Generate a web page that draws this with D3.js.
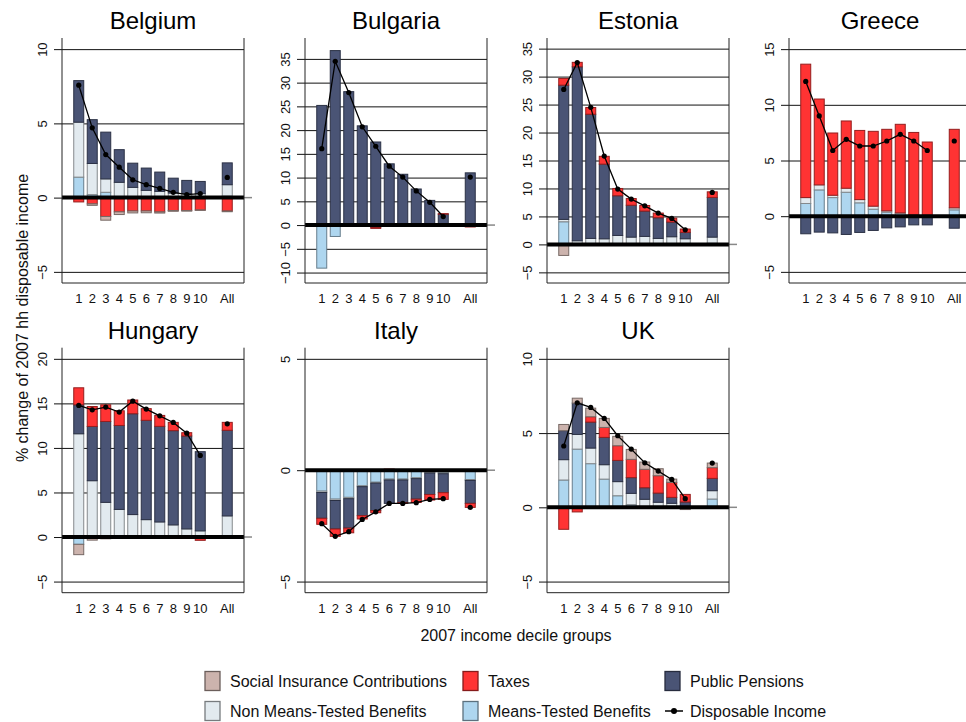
<!DOCTYPE html>
<html>
<head>
<meta charset="utf-8">
<script src="https://cdn.jsdelivr.net/npm/d3@7"></script>
<style>
  body { margin: 0; background: #fff; font-family: "Liberation Sans", Arial, sans-serif; }
</style>
</head>
<body>
<div class="chart"></div>
<script>
// categories
const deciles = ["1","2","3","4","5","6","7","8","9","10","All"];
const slots = ["1","2","3","4","5","6","7","8","9","10","gap","All"];
const countries = ["Belgium","Bulgaria","Estonia","Greece","Hungary","Italy","UK"];

// axis limits and tick labels, per country
const yDomains = [[-5.75,10.75],[-12.2,39.4],[-6.9,36.9],[-6,16],[-6.25,21.25],[-5.5,5.5],[-5.75,10.75]];
const yTicks = [
  [-5,0,5,10],
  [-10,-5,0,5,10,15,20,25,30,35],
  [-5,0,5,10,15,20,25,30,35],
  [-5,0,5,10,15],
  [-5,0,5,10,15,20],
  [-5,0,5],
  [-5,0,5,10]
];

// series values: Means-Tested, Non Means-Tested, Pensions, Taxes, SIC, Disposable Income
const beMT  = [1.38, 0.2, 0.36, 0.05, 0.05, 0.03, 0.02, 0.02, 0.01, 0.01, 0.1];
const beNMT = [3.7, 2.1, 0.9, 0.98, 0.64, 0.46, 0.4, 0.29, 0.26, 0.26, 0.77];
const bePEN = [2.8, 2.95, 3.15, 2.2, 1.63, 1.5, 1.3, 1.0, 0.89, 0.82, 1.47];
const beTAX = [-0.29, -0.42, -1.27, -0.96, -0.9, -0.9, -0.96, -0.87, -0.87, -0.83, -0.9];
const beSIC = [0, -0.1, -0.25, -0.18, -0.13, -0.12, -0.08, -0.05, -0.04, -0.03, -0.05];
const beDI  = [7.57, 4.7, 2.9, 2.05, 1.2, 0.87, 0.62, 0.36, 0.2, 0.27, 1.36];

const bgMT  = [-9.07, -2.4, 0.15, 0, -0.5, -0.15, -0.1, 0.05, 0, -0.3, -0.3];
const bgNMT = [0, 0, 0.1, 0.1, 0, 0.1, 0.1, 0.15, 0.1, 0, 0];
const bgPEN = [25.2, 36.75, 27.85, 20.8, 17.5, 12.8, 10.6, 7.4, 5.1, 2.3, 11.0];
const bgTAX = [0, 0, -0.2, -0.15, -0.2, -0.15, -0.2, -0.1, -0.2, 0.1, -0.1];
const bgSIC = [0, 0, 0, 0, 0, 0, 0, 0, 0, 0, 0];
const bgDI  = [16.1, 34.5, 27.9, 20.7, 16.6, 12.4, 10.1, 7.2, 4.8, 1.8, 10.1];

const eeMT  = [4.05, 0.1, 0.1, 0.1, 0.1, 0.1, 0.1, 0.1, 0.1, 0.05, 0.2];
const eeNMT = [0.42, 0.55, 0.97, 0.9, 1.5, 1.2, 1.33, 0.97, 1.27, 0.96, 1.1];
const eePEN = [24.0, 31.1, 22.2, 13.35, 7.1, 5.7, 4.53, 3.7, 2.63, 1.14, 7.1];
const eeTAX = [1.2, 0.8, 1.2, 1.4, 1.3, 1.2, 1.0, 0.83, 0.7, 0.6, 1.0];
const eeSIC = [-1.97, 0, 0, 0, 0, 0, 0, 0, 0, 0, 0];
const eeDI  = [27.7, 32.5, 24.5, 15.8, 9.9, 8.1, 6.9, 5.6, 4.65, 2.6, 9.3];

const grMT  = [1.14, 2.36, 1.67, 2.15, 1.2, 0.63, 0.36, 0.24, 0.08, 0.06, 0.57];
const grNMT = [0.53, 0.45, 0.21, 0.36, 0.29, 0.27, 0.12, 0.06, 0.04, 0.03, 0.18];
const grPEN = [-1.58, -1.43, -1.5, -1.64, -1.46, -1.28, -1.05, -0.96, -0.78, -0.78, -1.08];
const grTAX = [11.98, 7.71, 5.59, 6.04, 6.21, 6.72, 7.32, 7.95, 7.4, 6.57, 7.05];
const grSIC = [0, 0, 0, 0, 0, 0, 0, 0, 0, 0, 0];
const grDI  = [12.1, 9.0, 5.9, 6.9, 6.3, 6.3, 6.75, 7.35, 6.75, 5.9, 6.75];

const huMT  = [-0.82, -0.1, -0.05, -0.1, 0.05, 0.05, 0.05, 0.05, 0.05, 0.05, 0.05];
const huNMT = [11.59, 6.32, 3.89, 3.1, 2.47, 1.9, 1.64, 1.31, 0.86, 0.64, 2.32];
const huPEN = [3.25, 6.09, 9.08, 9.42, 11.32, 11.15, 10.73, 10.58, 10.43, 8.89, 9.61];
const huTAX = [1.91, 2.24, 1.87, 1.65, 1.54, 1.31, 1.23, 0.93, 0.37, -0.37, 0.89];
const huSIC = [-1.16, -0.25, -0.15, 0, 0, 0, 0, 0, 0, 0, 0];
const huDI  = [14.77, 14.28, 14.58, 14.02, 15.25, 14.36, 13.6, 12.86, 11.66, 9.16, 12.71];

const itMT  = [-0.94, -1.3, -1.22, -0.7, -0.54, -0.4, -0.4, -0.34, -0.09, -0.12, -0.42];
const itNMT = [-0.06, -0.06, -0.06, -0.04, -0.04, -0.04, -0.04, -0.04, -0.04, -0.04, -0.04];
const itPEN = [-1.16, -1.28, -1.32, -1.3, -1.23, -1.05, -1.02, -0.92, -0.96, -0.85, -1.03];
const itTAX = [-0.27, -0.33, -0.21, -0.15, -0.1, 0.05, -0.02, -0.15, -0.25, -0.3, -0.18];
const itSIC = [0, 0, 0, 0, 0, 0, 0, 0, 0, 0, 0];
const itDI  = [-2.4, -2.97, -2.76, -2.21, -1.87, -1.49, -1.49, -1.46, -1.31, -1.28, -1.67];

const ukMT  = [1.84, 3.92, 2.94, 1.9, 0.78, 0.18, 0.05, 0.05, 0.05, 0.03, 0.56];
const ukNMT = [1.37, 0.99, 1.05, 0.97, 0.95, 0.76, 0.49, 0.29, 0.22, 0.05, 0.56];
const ukPEN = [1.95, 2.11, 1.75, 1.84, 1.43, 1.06, 0.78, 0.62, 0.4, 0.28, 0.83];
const ukTAX = [-1.48, -0.31, 0.36, 0.67, 0.99, 1.23, 1.24, 1.17, 1.01, 0.51, 0.72];
const ukSIC = [0.42, 0.33, 0.58, 0.61, 0.63, 0.67, 0.49, 0.47, 0.22, -0.15, 0.31];
const ukDI  = [4.13, 7.04, 6.73, 5.99, 4.82, 3.92, 3.0, 2.44, 1.88, 0.58, 2.98];

const mtAll  = [beMT, bgMT, eeMT, grMT, huMT, itMT, ukMT];
const nmtAll = [beNMT, bgNMT, eeNMT, grNMT, huNMT, itNMT, ukNMT];
const penAll = [bePEN, bgPEN, eePEN, grPEN, huPEN, itPEN, ukPEN];
const taxAll = [beTAX, bgTAX, eeTAX, grTAX, huTAX, itTAX, ukTAX];
const sicAll = [beSIC, bgSIC, eeSIC, grSIC, huSIC, itSIC, ukSIC];
const diAll  = [beDI, bgDI, eeDI, grDI, huDI, itDI, ukDI];

// stacking order (positives up, negatives down)
const keys = ["mt","nmt","pen","tax","sic"];
const colors = {mt:"#aed6ef", nmt:"#e2eaef", pen:"#4a5475", tax:"#ff3333", sic:"#ccb3ad"};

// layout
const W = 182, H = 245;
const colX = [62, 305, 547, 789];
const rowY = [38, 347.7];

const svg = d3.select(".chart").append("svg")
    .attr("width", 966)
    .attr("height", 722)
    .style("font-family", '"Liberation Sans", Arial, sans-serif');

const stack = d3.stack().keys(keys).offset(d3.stackOffsetDiverging);

countries.forEach((country, i) => {
    const col = i % 4, row = Math.floor(i / 4);
    const g = svg.append("g")
        .attr("transform", `translate(${colX[col]},${rowY[row]})`);

    const rows = deciles.map((d, j) => ({
        cat: d,
        mt: mtAll[i][j], nmt: nmtAll[i][j], pen: penAll[i][j],
        tax: taxAll[i][j], sic: sicAll[i][j], di: diAll[i][j]
    }));

    const x = d3.scaleBand()
        .domain(slots)
        .range([0, W])
        .paddingInner(0.26)
        .paddingOuter(0.87);

    const y = d3.scaleLinear()
        .domain(yDomains[i])
        .range([H, 0]);

    // gridlines + rotated y labels
    const yAxis = d3.axisLeft(y).tickValues(yTicks[i]).tickSizeInner(-W).tickSizeOuter(0);
    const ya = g.append("g").attr("class", "axis y-axis").call(yAxis);
    ya.select(".domain").remove();
    ya.selectAll(".tick line")
        .attr("x1", -8)
        .attr("stroke", "#111")
        .attr("stroke-width", 1);
    ya.selectAll(".tick text")
        .attr("x", null).attr("dy", null)
        .attr("transform", "translate(-20,0) rotate(-90)")
        .attr("text-anchor", "middle")
        .attr("dominant-baseline", "central")
        .attr("font-size", 13)
        .attr("font-family", '"Liberation Sans", Arial, sans-serif')
        .attr("fill", "#111");

    // bars
    const series = stack(rows);
    g.append("g").selectAll("g")
        .data(series)
        .join("g")
        .attr("fill", s => colors[s.key])
        .attr("stroke", s => d3.color(colors[s.key]).darker(1.5))
        .selectAll("rect")
        .data(s => s.filter(d => d[1] - d[0] !== 0))
        .join("rect")
        .attr("class", "bar")
        .attr("x", d => x(d.data.cat === "All" ? "All" : d.data.cat))
        .attr("width", x.bandwidth())
        .attr("y", d => y(Math.max(d[0], d[1])))
        .attr("height", d => Math.abs(y(d[0]) - y(d[1])))
        .attr("stroke-width", 1);

    // zero line
    g.append("line")
        .attr("x1", W).attr("x2", W + 8)
        .attr("y1", y(0)).attr("y2", y(0))
        .attr("stroke", "#888").attr("stroke-width", 1.5);
    g.append("line")
        .attr("x1", 0).attr("x2", W)
        .attr("y1", y(0)).attr("y2", y(0))
        .attr("stroke", "#000").attr("stroke-width", 4);

    // frame: left, bottom, right
    g.append("path")
        .attr("d", `M0,0V${H}H${W}V0`)
        .attr("fill", "none")
        .attr("stroke", "#222")
        .attr("stroke-width", 1);

    // disposable income line
    const cx = d => x(d.cat) + x.bandwidth() / 2;
    const line = d3.line().x(cx).y(d => y(d.di));
    g.append("path")
        .datum(rows.filter(d => d.cat !== "All"))
        .attr("d", line)
        .attr("fill", "none")
        .attr("stroke", "#000")
        .attr("stroke-width", 1.3);
    g.selectAll(".dot")
        .data(rows)
        .join("circle")
        .attr("class", "dot")
        .attr("cx", cx)
        .attr("cy", d => y(d.di))
        .attr("r", 2.6)
        .attr("fill", "#000");

    // x labels
    const xAxis = d3.axisBottom(x).tickValues(deciles).tickSize(0).tickPadding(11);
    const xa = g.append("g").attr("class", "axis x-axis")
        .attr("transform", `translate(0,${H})`)
        .call(xAxis);
    xa.select(".domain").remove();
    xa.selectAll(".tick text")
        .attr("font-size", 13)
        .attr("font-family", '"Liberation Sans", Arial, sans-serif')
        .attr("fill", "#111");

    // panel title
    g.append("text")
        .attr("x", W / 2)
        .attr("y", -9)
        .attr("text-anchor", "middle")
        .attr("font-size", 24)
        .attr("fill", "#000")
        .text(country);
});

// axis titles
svg.append("text")
    .attr("x", 516).attr("y", 641)
    .attr("text-anchor", "middle")
    .attr("font-size", 16)
    .attr("fill", "#111")
    .text("2007 income decile groups");

svg.append("text")
    .attr("transform", "translate(22,318) rotate(-90)")
    .attr("text-anchor", "middle")
    .attr("dominant-baseline", "central")
    .attr("font-size", 16)
    .attr("fill", "#111")
    .text("% change of 2007 hh disposable income");

// legend
const legendItems = [
    {key:"sic", label:"Social Insurance Contributions", x:205, row:0},
    {key:"tax", label:"Taxes", x:463, row:0},
    {key:"pen", label:"Public Pensions", x:665, row:0},
    {key:"nmt", label:"Non Means-Tested Benefits", x:205, row:1},
    {key:"mt", label:"Means-Tested Benefits", x:463, row:1},
    {key:"di", label:"Disposable Income", x:665, row:1}
];
const legendRowY = [681, 711];

const lg = svg.append("g").selectAll("g")
    .data(legendItems)
    .join("g")
    .attr("transform", d => `translate(${d.x},${legendRowY[d.row]})`);

lg.filter(d => d.key !== "di").append("rect")
    .attr("x", 0).attr("y", -9.5)
    .attr("width", 15).attr("height", 19)
    .attr("fill", d => colors[d.key])
    .attr("stroke", d => d3.color(colors[d.key]).darker(1.8))
    .attr("stroke-width", 1.3);

const diItem = lg.filter(d => d.key === "di");
diItem.append("line")
    .attr("x1", 0).attr("x2", 18).attr("y1", 0).attr("y2", 0)
    .attr("stroke", "#000").attr("stroke-width", 1.5);
diItem.append("circle")
    .attr("cx", 9).attr("cy", 0).attr("r", 3).attr("fill", "#000");

lg.append("text")
    .attr("x", 25).attr("y", 0)
    .attr("dominant-baseline", "central")
    .attr("font-size", 16)
    .attr("fill", "#111")
    .text(d => d.label);
</script>
</body>
</html>
